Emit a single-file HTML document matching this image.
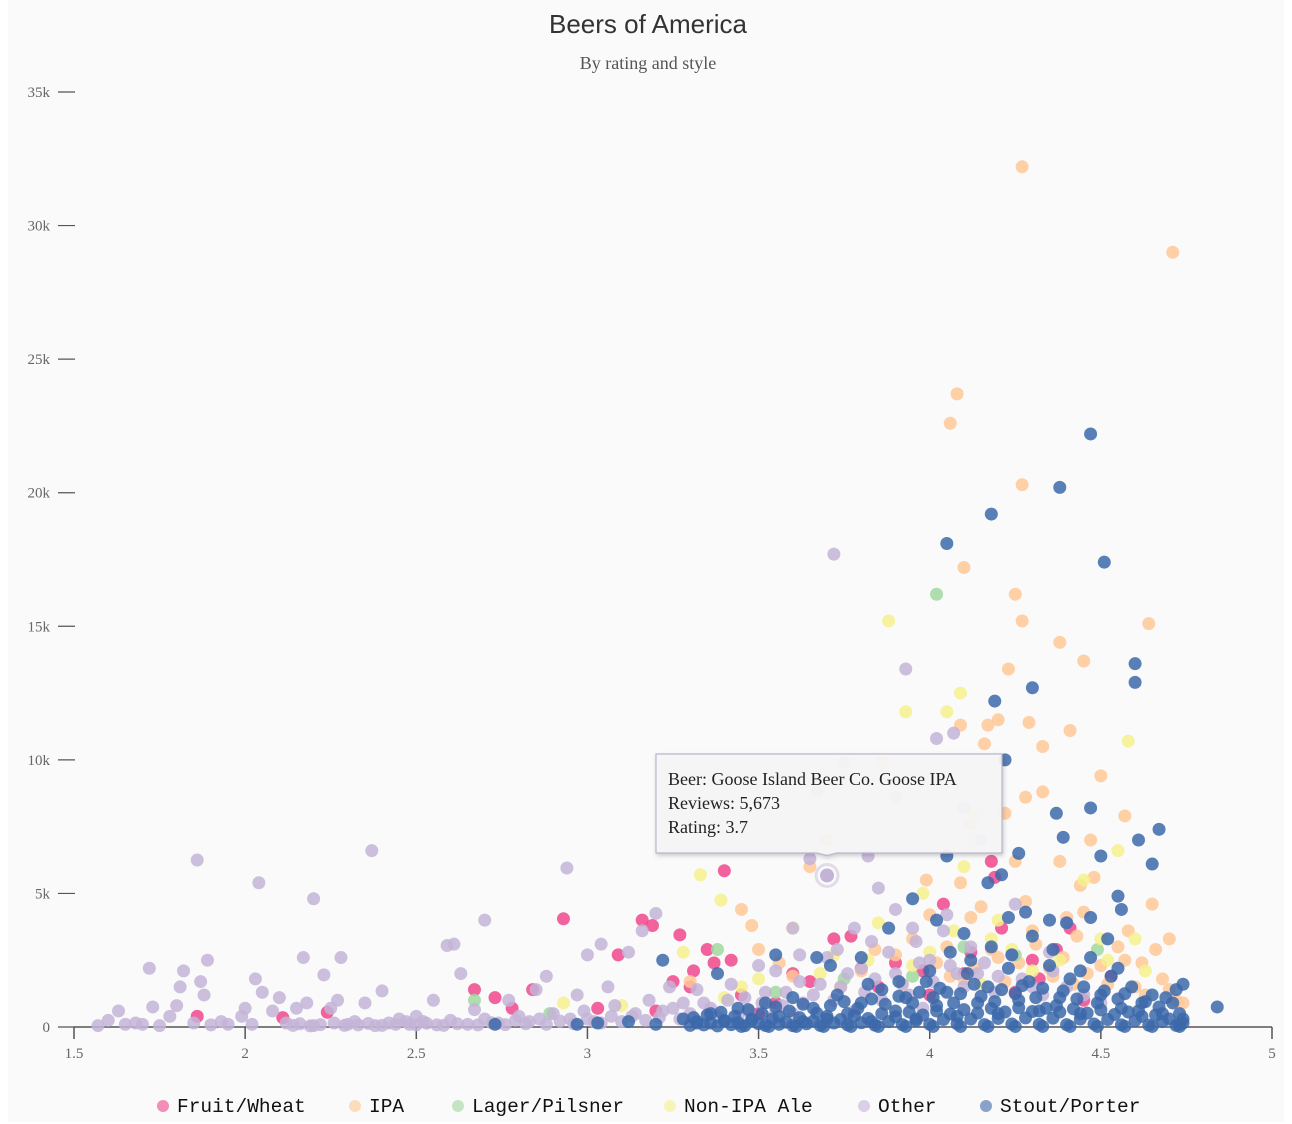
<!DOCTYPE html>
<html><head><meta charset="utf-8"><style>
html,body{margin:0;padding:0;background:#fff;}
#wrap{position:absolute;left:8px;top:0;width:1276px;height:1122px;background:#fafafa;}
svg{position:absolute;left:0;top:0;}
</style></head><body>
<div id="wrap"></div>
<svg id="chart" width="1292" height="1124">
<text x="648" y="33" text-anchor="middle" font-family="Liberation Sans, sans-serif" font-size="26" fill="#333">Beers of America</text>
<text x="648" y="69" text-anchor="middle" font-family="Liberation Serif, serif" font-size="18" fill="#555">By rating and style</text>
<g id="axes"></g><g id="marks"></g><g id="legend"></g><g id="tip"></g>
</svg>
<script>
const xTicks=[1.5,2,2.5,3,3.5,4,4.5,5];
const yTicks=[0,5000,10000,15000,20000,25000,30000,35000];
const yTickLabels=["0","5k","10k","15k","20k","25k","30k","35k"];
const seriesNames=["Fruit/Wheat","IPA","Lager/Pilsner","Non-IPA Ale","Other","Stout/Porter"];
const seriesColors=["#f0468c","#ffc896","#a0d7a0","#f5f08c","#c3b4d7","#3c69aa"];
const fruit=[[1.86,400],[2.11,350],[2.24,550],[2.67,1400],[2.73,1100],[2.78,700],[2.84,1400],[2.93,4050],[3.03,700],[3.09,2700],[3.16,4000],[3.19,3800],[3.25,1700],[3.27,3450],[3.31,2100],[3.35,2900],[3.37,2400],[3.40,5850],[3.6,2000],[3.72,3300],[3.77,3400],[3.9,2400],[3.98,2100],[4.04,4600],[4.12,2800],[4.18,6200],[4.19,5600],[4.21,3700],[4.32,1800],[4.37,2900],[4.41,3700],[4.53,1900],[3.45,1200],[3.55,900],[3.85,1500],[4.0,1200],[4.25,1300],[4.45,1000],[3.2,600],[3.5,500],[3.42,2500],[3.3,1500],[3.65,1700],[3.8,2200],[4.1,2000],[4.3,2500]];
const ipa=[[4.27,32200],[4.71,29000],[4.08,23700],[4.06,22600],[4.27,20300],[4.10,17200],[4.25,16200],[4.27,15200],[4.64,15100],[4.38,14400],[4.45,13700],[4.23,13400],[4.09,11300],[4.17,11300],[4.20,11500],[4.29,11400],[4.41,11100],[4.33,10500],[4.16,10600],[4.50,9400],[4.28,8600],[4.33,8800],[4.57,7900],[4.47,7000],[3.86,9900],[3.70,7000],[4.12,7600],[4.22,8000],[4.38,6200],[4.25,6200],[4.44,5300],[4.48,5600],[4.65,4600],[4.70,3300],[3.45,4400],[3.48,3800],[3.65,6000],[3.99,5500],[4.09,5400],[3.50,2900],[3.3,1700],[4.0,4200],[4.15,4500],[4.3,3600],[4.4,4100],[4.55,3000],[4.62,2400],[4.68,1800],[4.72,1000],[4.35,2200],[4.2,2600],[4.05,3000],[3.9,2700],[3.8,2100],[3.6,1900],[4.5,2300],[4.6,1500],[4.1,1800],[4.42,1600],[3.95,3300],
[4.02,2400],[4.06,1900],[4.13,2200],[4.18,2900],[4.22,1700],[4.26,2400],[4.31,3100],[4.36,1900],[4.39,2600],[4.43,3400],[4.46,2000],[4.52,1600],[4.57,2500],[4.63,1200],[4.66,2900],[4.7,1400],[4.74,900],[4.12,4100],[4.28,4700],[4.45,4300],[4.58,3600],[3.92,1600],[3.84,2900],[3.74,1500],[3.56,2400]];
const lager=[[4.02,16200],[3.38,2900],[2.67,1000],[2.89,500],[4.49,2900],[4.10,3000],[3.95,1900],[3.75,1800],[4.25,2700],[3.55,1300]];
const nonipa=[[3.88,15200],[3.93,11800],[4.09,12500],[4.05,11800],[4.58,10700],[3.33,5700],[3.39,4750],[4.13,7900],[4.55,6600],[3.98,5000],[4.20,4000],[3.60,3700],[3.28,2800],[2.93,900],[4.45,5500],[4.60,3300],[4.18,3300],[3.85,3900],[3.72,2700],[4.1,6000],[3.5,1800],[3.95,2300],[4.3,2100],[4.52,2500],[3.4,1100],[3.1,800],[4.15,1600],[3.82,2500],[4.0,2800],[4.07,3600],[4.24,2900],[4.38,2500],[4.5,3300],[4.63,2100],[3.68,2000],[3.45,1500]];
const other=[[1.57,50],[1.6,250],[1.63,600],[1.65,100],[1.68,150],[1.72,2200],[1.73,750],[1.78,400],[1.80,800],[1.81,1500],[1.82,2100],[1.86,6250],[1.87,1700],[1.88,1200],[1.89,2500],[1.90,80],[1.95,100],[1.99,400],[2.0,700],[2.03,1800],[2.04,5400],[2.05,1300],[2.08,600],[2.10,1100],[2.15,700],[2.17,2600],[2.18,900],[2.2,4800],[2.23,1950],[2.25,700],[2.27,1000],[2.28,2600],[2.37,6600],[2.35,900],[2.40,1350],[2.5,400],[2.55,1000],[2.59,3050],[2.61,3100],[2.63,2000],[2.67,650],[2.70,4000],[2.77,1000],[2.85,1400],[2.88,1900],[2.94,5950],[2.97,1200],[3.0,2700],[3.04,3100],[3.06,1500],[3.12,2800],[3.16,3600],[3.20,4250],[3.24,1500],[3.50,2300],[3.55,2100],[3.60,3700],[3.65,6300],[3.67,8800],[3.72,17700],[3.75,9900],[3.78,3700],[3.82,6400],[3.85,5200],[3.90,8600],[3.93,13400],[4.02,10800],[4.07,11000],[4.10,8200],[4.15,7000],[4.25,4600],[4.35,2800],[4.40,3900],
[1.7,100],[1.75,50],[1.85,150],[1.93,200],[2.02,100],[2.12,150],[2.2,50],[2.3,100],[2.32,200],[2.38,50],[2.42,150],[2.45,300],[2.48,100],[2.52,200],[2.56,80],[2.6,250],[2.65,100],[2.7,300],[2.74,150],[2.8,400],[2.83,200],[2.9,500],[2.95,300],[2.99,600],[3.02,200],[3.08,800],[3.13,400],[3.18,1000],[3.22,600],[3.28,900],[3.32,1400],[3.36,700],[3.42,1600],[3.46,1100],[3.52,1300],[3.57,800],[3.62,1700],[3.66,1200],[3.7,2600],[3.74,1500],[3.8,2200],[3.84,1800],[3.88,2800],[3.92,1600],[3.96,3200],[4.0,2500],[4.04,3600],[4.08,2000],[4.12,3000],[4.16,2400],[4.2,1900],[4.24,2700],[4.3,1500],[4.36,2100],[4.45,1200],[4.5,900],[3.44,400],[3.6,500],[3.78,600],[3.98,700],
[2.14,60],[2.16,120],[2.19,40],[2.22,90],[2.26,150],[2.29,60],[2.33,80],[2.36,130],[2.4,60],[2.44,100],[2.47,200],[2.5,80],[2.53,140],[2.58,60],[2.62,120],[2.68,80],[2.72,160],[2.76,90],[2.79,250],[2.82,120],[2.86,300],[2.88,100],[2.92,220],[2.96,120],[3.0,300],[3.04,150],[3.07,400],[3.1,200],[3.14,500],[3.17,250],[3.21,350],[3.25,700],[3.27,300],[3.3,500],[3.34,900],[3.38,400],[3.41,1000],[3.47,600],[3.51,900],[3.54,400],[3.58,1300],[3.63,900],[3.68,1600],[3.72,1000],[3.76,2000],[3.81,1300],[3.86,1000],[3.9,2000],[3.94,1200],[3.97,2400],[4.01,1700],[4.06,2300],[4.1,1500],[4.14,2000],[4.19,1300],[4.27,1800],[4.33,1200],[4.4,1500],[3.73,2900],[3.83,3200],[3.95,3700],[4.05,4200],[3.62,2700],[3.9,4400]];
const stout=[[4.47,22200],[4.38,20200],[4.18,19200],[4.05,18100],[4.51,17400],[4.60,13600],[4.60,12900],[4.30,12700],[4.19,12200],[4.22,10000],[4.67,7400],[4.65,6100],[4.47,8200],[4.39,7100],[4.37,8000],[4.26,6500],[4.50,6400],[4.05,6400],[4.21,5700],[4.17,5400],[3.95,4800],[4.61,7000],[4.56,4400],[4.55,4900],[4.52,3300],[4.47,4100],[4.40,3900],[4.35,4000],[4.28,4300],[4.23,4100],[4.10,3500],[4.02,4000],[3.88,3700],[3.80,2600],[3.67,2600],[3.55,2700],[3.38,2000],[3.22,2500],[3.71,2300],[4.84,750],[4.74,1600],[4.72,1400],
[2.73,100],[2.97,100],[3.03,150],[3.12,200],[3.2,100],[3.28,300],[3.32,150],[3.36,500],[3.4,250],[3.44,700],[3.48,300],[3.52,900],[3.56,400],[3.6,1100],[3.63,200],[3.66,700],[3.7,300],[3.73,1200],[3.76,500],[3.8,900],[3.83,200],[3.86,1400],[3.9,600],[3.93,1100],[3.96,300],[3.99,1700],[4.02,800],[4.05,1300],[4.08,400],[4.11,2000],[4.14,900],[4.17,1500],[4.2,500],[4.23,2200],[4.26,1000],[4.29,1700],[4.32,600],[4.35,2300],[4.38,1100],[4.41,1800],[4.44,500],[4.47,2600],[4.5,1200],[4.53,1900],[4.56,700],[4.59,1500],[4.62,900],[4.65,1200],[4.68,500],[4.71,900],[4.74,300],[4.73,100],
[3.30,60],[3.32,200],[3.34,80],[3.36,150],[3.38,40],[3.40,220],[3.42,90],[3.44,160],[3.46,50],[3.48,250],[3.50,120],[3.52,60],[3.54,300],[3.56,100],[3.58,180],[3.60,50],[3.62,350],[3.64,120],[3.66,220],[3.68,60],[3.70,400],[3.72,150],[3.74,280],[3.76,80],[3.78,420],[3.80,160],[3.82,320],[3.84,70],[3.86,500],[3.88,200],[3.90,380],[3.92,90],[3.94,560],[3.96,240],[3.98,450],[4.00,100],[4.02,600],[4.04,280],[4.06,480],[4.08,120],[4.10,650],[4.12,300],[4.14,520],[4.16,90],[4.18,700],[4.20,320],[4.22,560],[4.24,110],[4.26,720],[4.28,340],[4.30,580],[4.32,100],[4.34,700],[4.36,330],[4.38,560],[4.40,90],[4.42,680],[4.44,300],[4.46,520],[4.48,110],[4.50,640],[4.52,280],[4.54,470],[4.56,80],[4.58,560],[4.60,240],[4.62,400],[4.64,70],[4.66,450],[4.68,200],[4.70,300],[4.72,60],[4.74,150],
[3.31,350],[3.35,450],[3.39,550],[3.43,400],[3.47,650],[3.51,500],[3.55,750],[3.59,600],[3.63,850],[3.67,520],[3.71,800],[3.75,950],[3.79,700],[3.83,1050],[3.87,850],[3.91,1150],[3.95,900],[3.97,1300],[4.01,1100],[4.03,1450],[4.07,900],[4.09,1250],[4.13,1600],[4.15,1150],[4.19,950],[4.21,1400],[4.25,1250],[4.27,1550],[4.31,1100],[4.33,1450],[4.37,800],[4.39,1350],[4.43,1050],[4.45,1500],[4.49,900],[4.51,1350],[4.55,1050],[4.57,1250],[4.61,600],[4.63,950],[4.67,750],[4.69,1100],[4.73,500],
[3.45,20],[3.53,20],[3.61,20],[3.69,20],[3.77,20],[3.85,20],[3.93,20],[4.01,20],[4.09,20],[4.17,20],[4.25,20],[4.33,20],[4.41,20],[4.49,20],[4.57,20],[4.65,20],[4.73,20],[3.91,1700],[4.0,2100],[4.12,2500],[4.24,2700],[4.36,2900],[4.44,2100],[4.55,2200],[4.18,3000],[4.3,3400],[3.82,1600],[4.06,2800]];
const seriesData=[fruit,ipa,lager,nonipa,other,stout];
const tipBeer="Goose Island Beer Co. Goose IPA",tipReviews=5673,tipRating=3.7;

const NS="http://www.w3.org/2000/svg";
const X0=74,X1=1272,Y0=1027,Y1=92;
const xs=v=>X0+(v-1.5)/(5-1.5)*(X1-X0);
const ys=v=>Y0-(v/35000)*(Y0-Y1);
function mk(t,a,p){const e=document.createElementNS(NS,t);for(const k in a)e.setAttribute(k,a[k]);p.appendChild(e);return e;}
const axes=document.getElementById('axes');
let xl=mk('path',{d:`M${X0},${Y0}H${X1}`,stroke:'#555','stroke-width':1.5,fill:'none'},axes);


xTicks.forEach(t=>{const x=xs(t);
 const l=mk('line',{x1:x,x2:x,y1:Y0,y2:Y0+12,stroke:'#555','stroke-width':1.5},axes);
 
 
 const tx=mk('text',{x:x,y:Y0+31,'text-anchor':'middle','font-family':'Liberation Serif, serif','font-size':15,fill:'#666'},axes);
 tx.textContent=String(t);
 
 });
yTicks.forEach((t,i)=>{const y=ys(t);
 const l=mk('line',{x1:58,x2:75,y1:y,y2:y,stroke:'#555','stroke-width':1.2},axes);
 
 
 const tx=mk('text',{x:50,y:y+5,'text-anchor':'end','font-family':'Liberation Serif, serif','font-size':15,fill:'#666'},axes);
 tx.textContent=yTickLabels[i];
 
 });
const marks=document.getElementById('marks');
seriesData.forEach((arr,si)=>{arr.forEach(p=>{
 const c=mk('circle',{cx:xs(p[0]),cy:ys(p[1]),r:6.5,fill:seriesColors[si],'fill-opacity':0.85},marks);
 
 });});
const leg=document.getElementById('legend');
const lx=[163,355,458,670,864,986];
seriesNames.forEach((n,i)=>{
 const g=mk('g',{},leg);
 
 
 mk('circle',{cx:lx[i],cy:1106,r:6,fill:seriesColors[i],'fill-opacity':0.6},g);
 const t=mk('text',{x:lx[i]+14,y:1112,'font-family':'Liberation Mono, monospace','font-size':19.5,fill:'#111'},g);
 t.textContent=n;});
const tip=document.getElementById('tip');
const hx=xs(tipRating),hy=ys(tipReviews);
let ring=mk('circle',{cx:hx,cy:hy,r:11,fill:'none',stroke:'#e0dce8','stroke-width':3},tip);


let hp=mk('circle',{cx:hx,cy:hy,r:7,fill:'#c3b4d7'},tip);


const tg=mk('g',{},tip);


mk('path',{d:`M656,754H1002V853H${hx+10}L${hx},${hy-20}L${hx-10},853H656Z`,fill:'#f7f7f7','fill-opacity':0.93,stroke:'#bdb5cc','stroke-width':1.2,filter:'drop-shadow(1px 2px 2px rgba(0,0,0,0.2))'},tg);
const lines=["Beer: "+tipBeer,"Reviews: "+tipReviews.toLocaleString('en-US'),"Rating: "+tipRating];
lines.forEach((s,i)=>{const t=mk('text',{x:668,y:785+i*24,'font-family':'Liberation Serif, serif','font-size':18,fill:'#222'},tg);t.textContent=s;});
</script>
</body></html>
